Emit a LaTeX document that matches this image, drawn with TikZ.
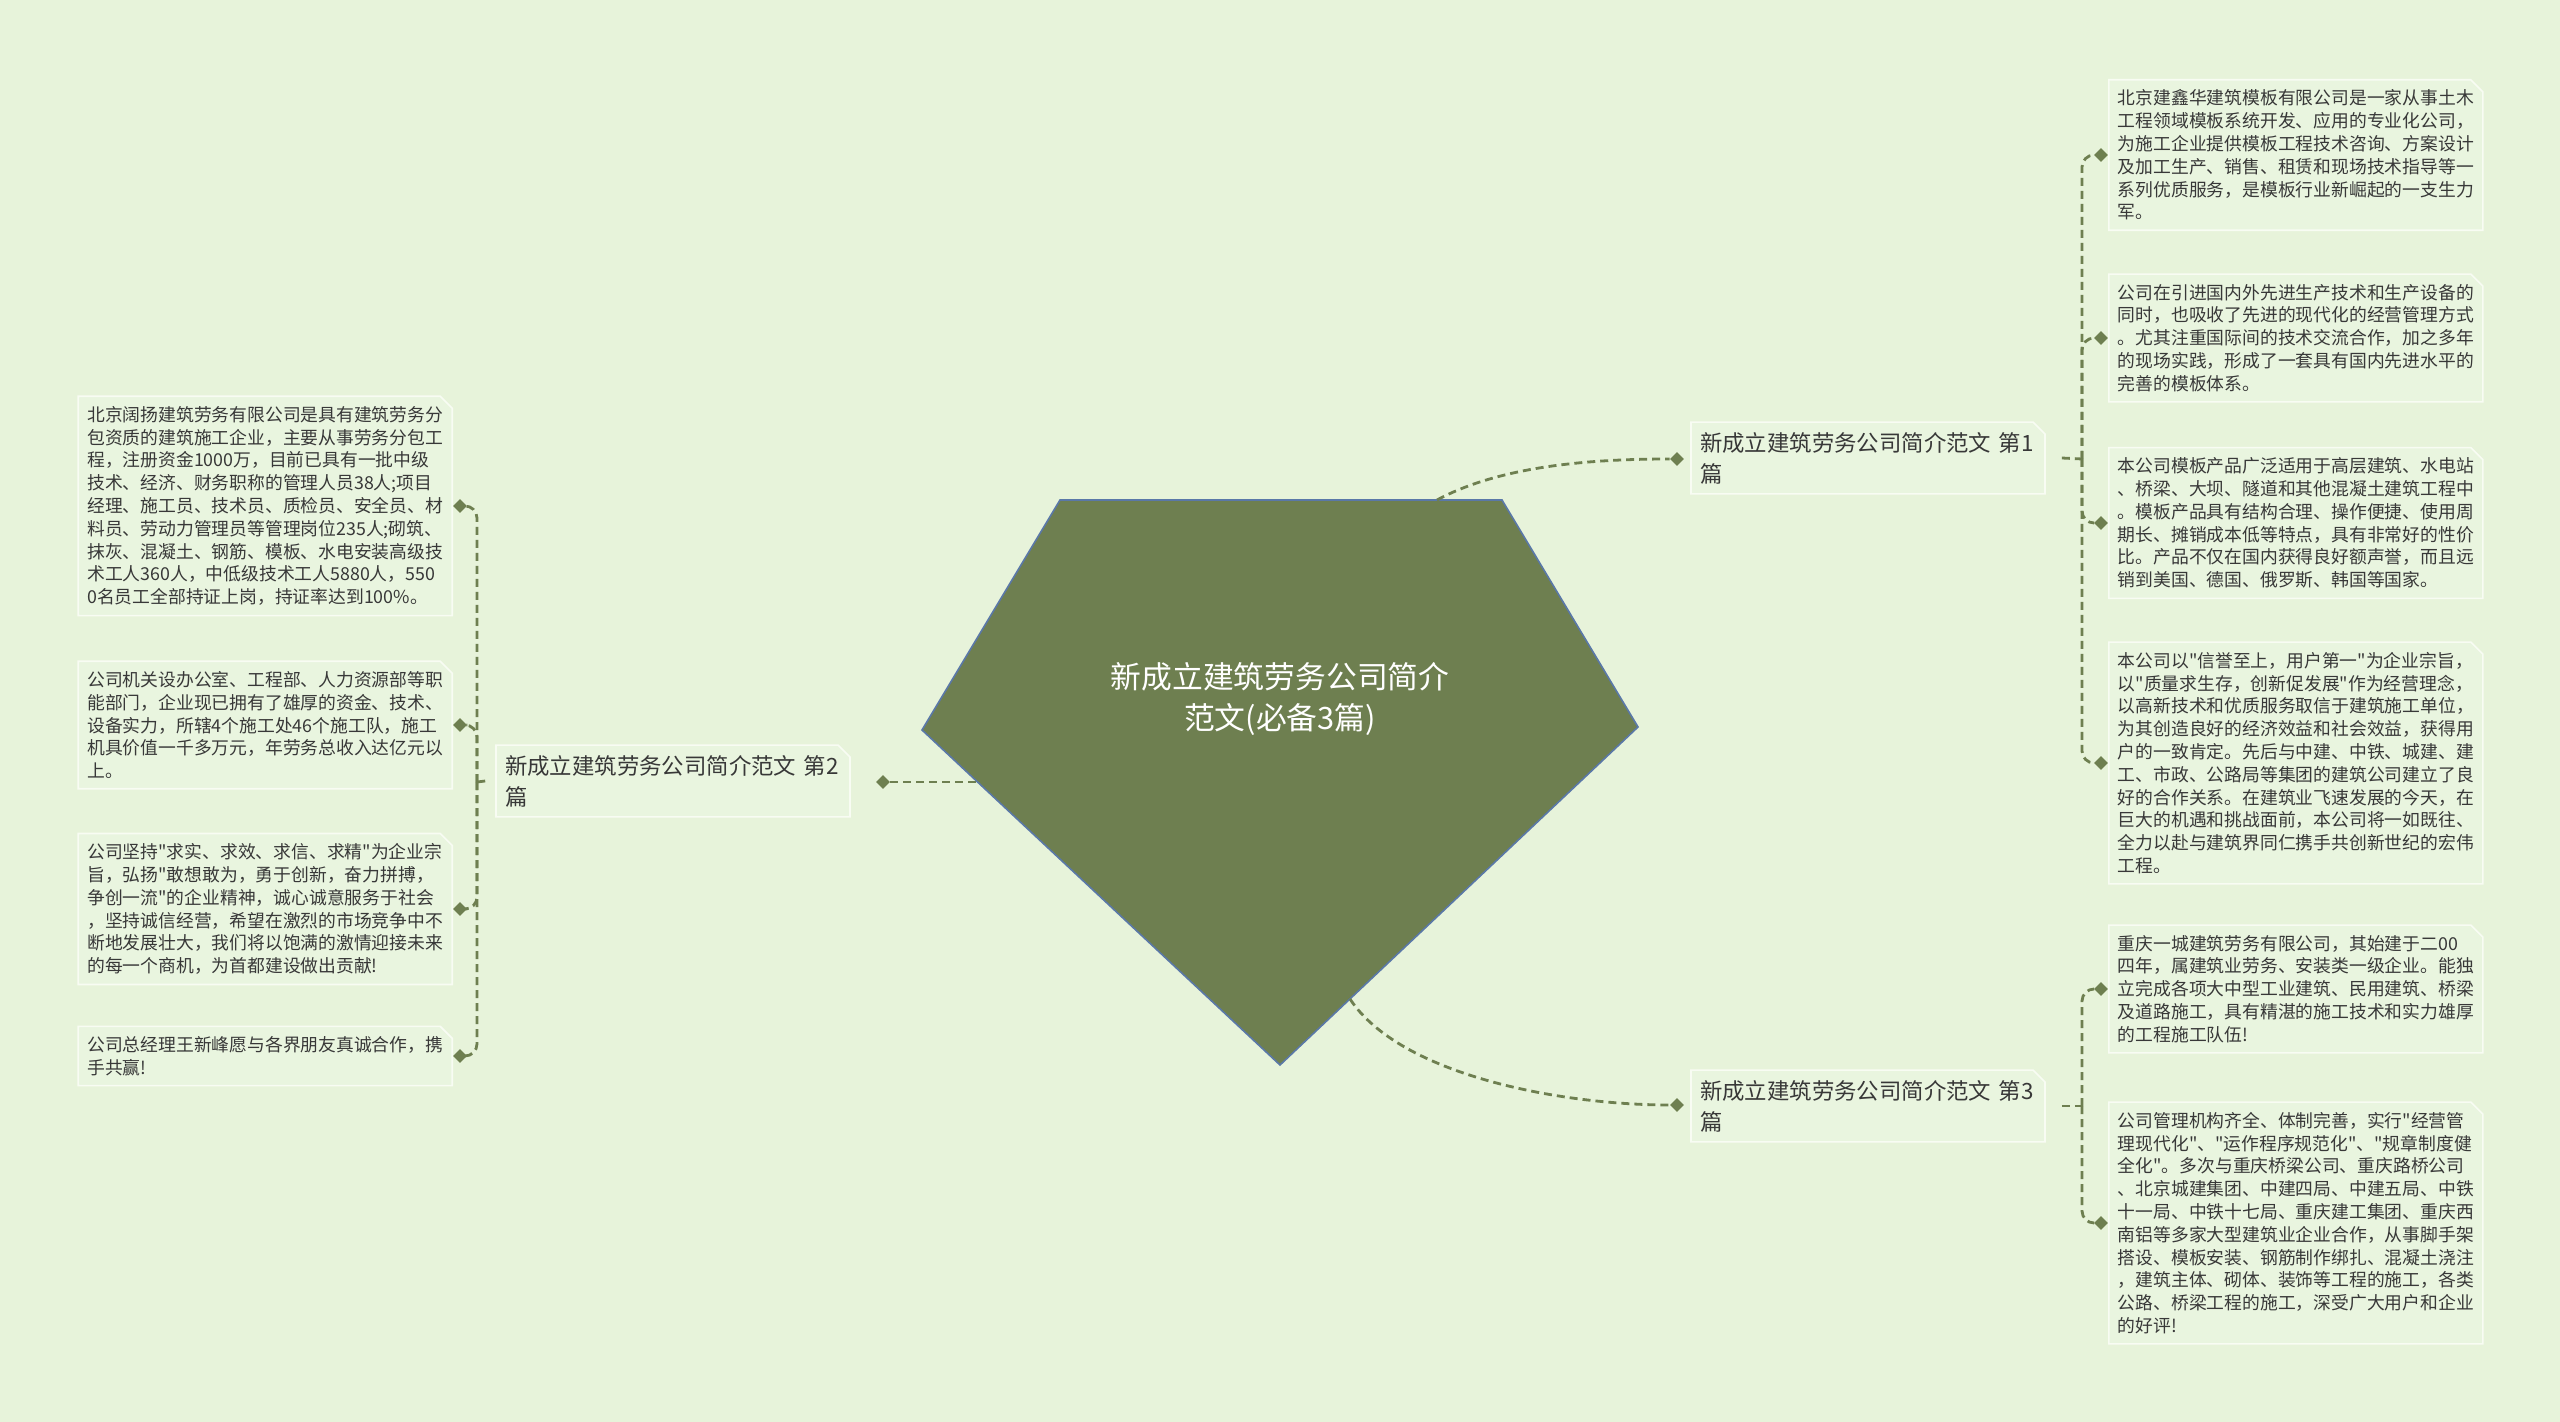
\documentclass[tikz,border=0pt]{standalone}
\usepackage{fontspec}
\setmainfont{Noto Sans CJK SC}[Ligatures=TeXOff]
\usetikzlibrary{shapes.geometric,shapes.misc}
\definecolor{bgcol}{HTML}{E7F3DA}
\definecolor{topicgreen}{HTML}{6E7F50}
\definecolor{pentline}{HTML}{5A78A8}
\definecolor{boxfill}{HTML}{E9F5DF}
\definecolor{boxline}{HTML}{F8FCF3}
\definecolor{textgrey}{HTML}{383838}

\begin{document}
\begin{tikzpicture}[x=0.5pt,y=-0.5pt,
  link/.style={draw=topicgreen,line width=1.4pt,dash pattern=on 4pt off 2.5pt},
  knob/.style={diamond,fill=topicgreen,inner sep=0pt,minimum size=7pt},
  leaf/.style={chamfered rectangle,chamfered rectangle corners=north east,
    chamfered rectangle xsep=3pt,chamfered rectangle ysep=3pt,
    fill=boxfill,draw=boxline,line width=0.8pt,text=textgrey,
    text width=178pt,align=left,inner xsep=1.5pt,inner ysep=2pt,
    font=\fontsize{8.9pt}{11.4pt}\selectfont},
  branch/.style={leaf,text width=168pt,font=\fontsize{11.2pt}{15.5pt}\selectfont}]
   % canvas
   \fill[bgcol] (0,0) rectangle (2560,1422);

   % central topic
   \draw[draw=pentline,fill=topicgreen,line width=0.8pt]
     (1060,500) -- (1502,500) -- (1638,727) -- (1280,1065) -- (922,730) -- cycle;
   \node[text=white,align=center,font=\fontsize{15.4pt}{20.5pt}\selectfont] (hub) at (1280,699)
     {新成立建筑劳务公司简介\\范文(必备3篇)};
   \coordinate (h1) at (1437,500);
   \coordinate (h2) at (978,782);
   \coordinate (h3) at (1350,999);

   % first branch
   \node[branch] (b1) at (1868,458) {新成立建筑劳务公司简介范文 第1\\篇};
   \node[knob] (d1) at (1677,459) {};
   \draw[link] (h1) .. controls (1500,466) and (1590,459) .. (d1);
   \coordinate (j1) at (2082,459);
   \draw[link] (b1.east) ++(16,0) -- (j1);

   \node[leaf,anchor=west] (l1a) at (2108,155) {北京建鑫华建筑模板有限公司是一家从事土木\\工程领域模板系统开发、应用的专业化公司，\\为施工企业提供模板工程技术咨询、方案设计\\及加工生产、销售、租赁和现场技术指导等一\\系列优质服务，是模板行业新崛起的一支生力\\军。};
   \node[leaf,anchor=west] (l1b) at (2108,338) {公司在引进国内外先进生产技术和生产设备的\\同时，也吸收了先进的现代化的经营管理方式\\。尤其注重国际间的技术交流合作，加之多年\\的现场实践，形成了一套具有国内先进水平的\\完善的模板体系。};
   \node[leaf,anchor=west] (l1c) at (2108,523) {本公司模板产品广泛适用于高层建筑、水电站\\、桥梁、大坝、隧道和其他混凝土建筑工程中\\。模板产品具有结构合理、操作便捷、使用周\\期长、摊销成本低等特点，具有非常好的性价\\比。产品不仅在国内获得良好额声誉，而且远\\销到美国、德国、俄罗斯、韩国等国家。};
   \node[leaf,anchor=west] (l1d) at (2108,763) {本公司以"信誉至上，用户第一"为企业宗旨，\\以"质量求生存，创新促发展"作为经营理念，\\以高新技术和优质服务取信于建筑施工单位，\\为其创造良好的经济效益和社会效益，获得用\\户的一致肯定。先后与中建、中铁、城建、建\\工、市政、公路局等集团的建筑公司建立了良\\好的合作关系。在建筑业飞速发展的今天，在\\巨大的机遇和挑战面前，本公司将一如既往、\\全力以赴与建筑界同仁携手共创新世纪的宏伟\\工程。};
   \foreach \n/\y in {1a/155,1b/338,1c/523,1d/763}{
     \node[knob] (k\n) at (2101,\y) {};
     \draw[link,rounded corners=6pt] (j1) |- (k\n);
   }

   % second branch
   \node[branch] (b2) at (673,781) {新成立建筑劳务公司简介范文 第2\\篇};
   \node[knob] (d2) at (883,782) {};
   \draw[link] (d2) -- (h2);
   \coordinate (j2) at (477,782);
   \draw[link] (b2.west) ++(-10,0) -- (j2);

   \node[leaf,anchor=east] (l2a) at (453,506) {北京阔扬建筑劳务有限公司是具有建筑劳务分\\包资质的建筑施工企业，主要从事劳务分包工\\程，注册资金1000万，目前已具有一批中级\\技术、经济、财务职称的管理人员38人;项目\\经理、施工员、技术员、质检员、安全员、材\\料员、劳动力管理员等管理岗位235人;砌筑、\\抹灰、混凝土、钢筋、模板、水电安装高级技\\术工人360人，中低级技术工人5880人，550\\0名员工全部持证上岗，持证率达到100\%。};
   \node[leaf,anchor=east] (l2b) at (453,725) {公司机关设办公室、工程部、人力资源部等职\\能部门，企业现已拥有了雄厚的资金、技术、\\设备实力，所辖4个施工处46个施工队，施工\\机具价值一千多万元，年劳务总收入达亿元以\\上。};
   \node[leaf,anchor=east] (l2c) at (453,909) {公司坚持"求实、求效、求信、求精"为企业宗\\旨，弘扬"敢想敢为，勇于创新，奋力拼搏，\\争创一流"的企业精神，诚心诚意服务于社会\\，坚持诚信经营，希望在激烈的市场竞争中不\\断地发展壮大，我们将以饱满的激情迎接未来\\的每一个商机，为首都建设做出贡献!};
   \node[leaf,anchor=east] (l2d) at (453,1056) {公司总经理王新峰愿与各界朋友真诚合作，携\\手共赢!};
   \foreach \n/\y in {2a/506,2b/725,2c/909,2d/1056}{
     \node[knob] (k\n) at (460,\y) {};
     \draw[link,rounded corners=6pt] (j2) |- (k\n);
   }

   % third branch
   \node[branch] (b3) at (1868,1106) {新成立建筑劳务公司简介范文 第3\\篇};
   \node[knob] (d3) at (1677,1105) {};
   \draw[link] (h3) .. controls (1400,1075) and (1560,1105) .. (d3);
   \coordinate (j3) at (2082,1106);
   \draw[link] (b3.east) ++(16,0) -- (j3);

   \node[leaf,anchor=west] (l3a) at (2108,989) {重庆一城建筑劳务有限公司，其始建于二00\\四年，属建筑业劳务、安装类一级企业。能独\\立完成各项大中型工业建筑、民用建筑、桥梁\\及道路施工，具有精湛的施工技术和实力雄厚\\的工程施工队伍!};
   \node[leaf,anchor=west] (l3b) at (2108,1223) {公司管理机构齐全、体制完善，实行"经营管\\理现代化"、"运作程序规范化"、"规章制度健\\全化"。多次与重庆桥梁公司、重庆路桥公司\\、北京城建集团、中建四局、中建五局、中铁\\十一局、中铁十七局、重庆建工集团、重庆西\\南铝等多家大型建筑业企业合作，从事脚手架\\搭设、模板安装、钢筋制作绑扎、混凝土浇注\\，建筑主体、砌体、装饰等工程的施工，各类\\公路、桥梁工程的施工，深受广大用户和企业\\的好评!};
   \foreach \n/\y in {3a/989,3b/1223}{
     \node[knob] (k\n) at (2101,\y) {};
     \draw[link,rounded corners=6pt] (j3) |- (k\n);
   }
 \end{tikzpicture}
\end{document}
